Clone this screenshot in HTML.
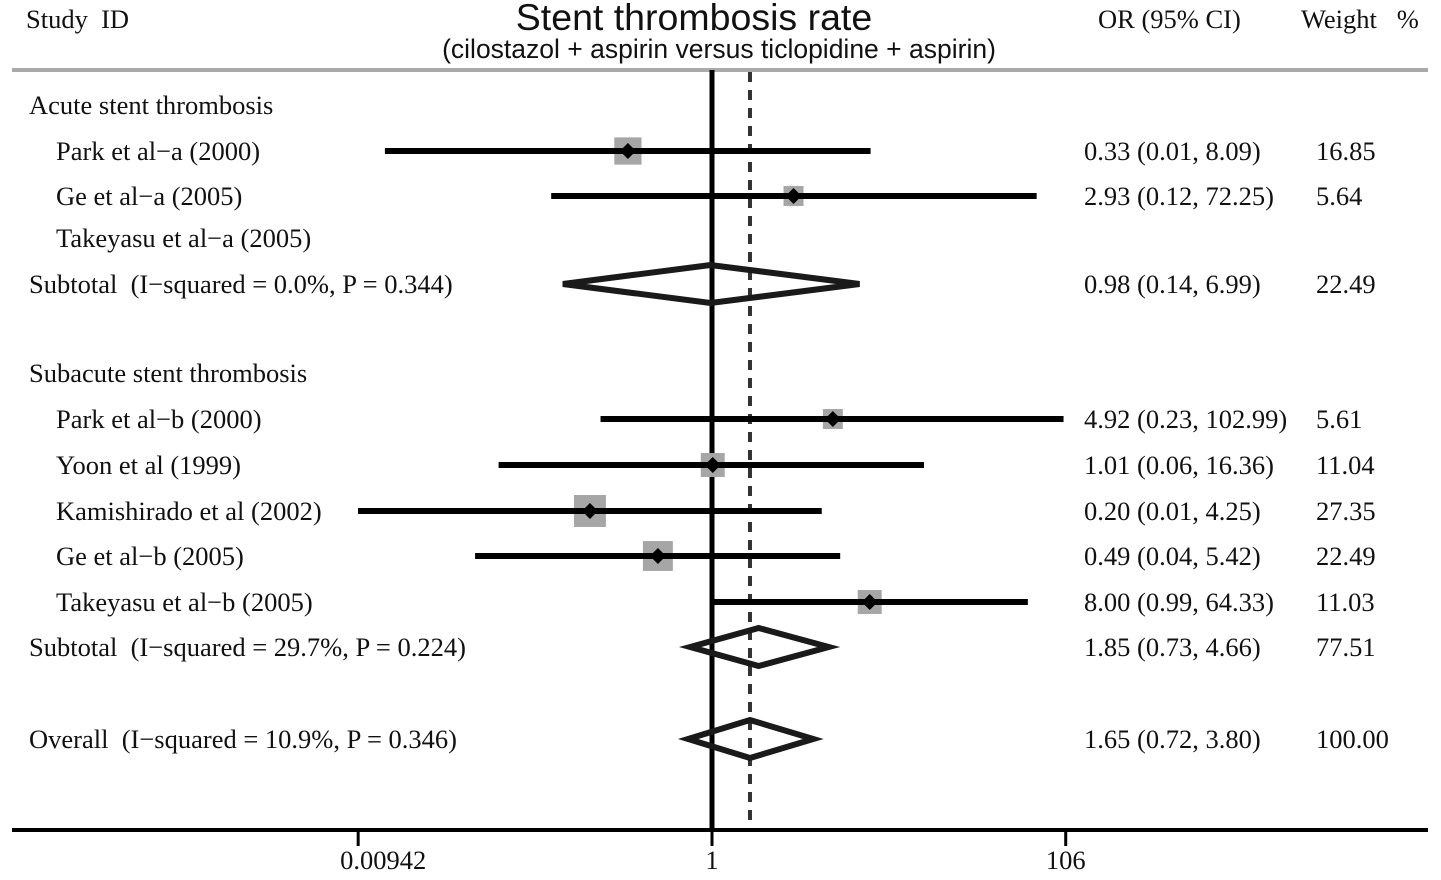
<!DOCTYPE html>
<html><head><meta charset="utf-8"><style>
html,body{margin:0;padding:0;background:#fff;}
svg{display:block;}
text{font-family:"Liberation Serif",serif;font-size:26.5px;fill:#111;white-space:pre;}
.sans{font-family:"Liberation Sans",sans-serif;}
</style></head><body>
<svg id="chart" width="1441" height="880" viewBox="0 0 1441 880" xmlns="http://www.w3.org/2000/svg" xml:space="preserve">
<text x="26" y="28">Study  ID</text>
<text class="sans" x="694" y="30" text-anchor="middle" style="font-size:37.5px">Stent thrombosis rate</text>
<text class="sans" x="719" y="58" text-anchor="middle" style="font-size:26.5px">(cilostazol + aspirin versus ticlopidine + aspirin)</text>
<text x="1098" y="28">OR (95% CI)</text>
<text x="1301" y="28">Weight   %</text>
<line x1="12" y1="70" x2="1428" y2="70" stroke="#aaa" stroke-width="4"/>
<g id="marks"></g>
</svg>
<script>
const labels=["Acute stent thrombosis","Park et al\u2212a (2000)","Ge et al\u2212a (2005)","Takeyasu et al\u2212a (2005)","Subtotal  (I\u2212squared = 0.0%, P = 0.344)","Subacute stent thrombosis","Park et al\u2212b (2000)","Yoon et al (1999)","Kamishirado et al (2002)","Ge et al\u2212b (2005)","Takeyasu et al\u2212b (2005)","Subtotal  (I\u2212squared = 29.7%, P = 0.224)","Overall  (I\u2212squared = 10.9%, P = 0.346)"];
const rowKinds=["header","study","study","empty","pooled","header","study","study","study","study","study","pooled","pooled"];
const rowY=[105,151,196,238,284,373,419,465,511,556,602,647,739];
const estimates=[null,0.33,2.93,null,0.98,null,4.92,1.01,0.20,0.49,8.00,1.85,1.65];
const lowers=[null,0.0134,0.12,null,0.14,null,0.23,0.06,0.0094,0.044,0.99,0.75,0.73];
const uppers=[null,8.09,72.25,null,6.99,null,102.99,16.36,4.25,5.42,64.33,4.66,3.80];
const orText=["","0.33 (0.01, 8.09)","2.93 (0.12, 72.25)","","0.98 (0.14, 6.99)","","4.92 (0.23, 102.99)","1.01 (0.06, 16.36)","0.20 (0.01, 4.25)","0.49 (0.04, 5.42)","8.00 (0.99, 64.33)","1.85 (0.73, 4.66)","1.65 (0.72, 3.80)"];
const weights=[null,16.85,5.64,null,22.49,null,5.61,11.04,27.35,22.49,11.03,77.51,100.00];
const tickValues=[0.00942,1,106];
const tickLabels=["0.00942","1","106"];
const overallEstimate=1.65;

const NS="http://www.w3.org/2000/svg";
const g=document.getElementById('marks');
const xs=v=>712+75.85*Math.log(v);
function mk(tag,attrs,parent){const e=document.createElementNS(NS,tag);for(const k in attrs)e.setAttribute(k,attrs[k]);(parent||g).appendChild(e);return e;}

let e=mk('line',{x1:xs(1),y1:70,x2:xs(1),y2:830,stroke:'#000','stroke-width':5});


e=mk('line',{x1:xs(overallEstimate),y1:72,x2:xs(overallEstimate),y2:830,stroke:'#333','stroke-width':4,'stroke-dasharray':'10 8'});



labels.forEach((lab,i)=>{
  const y=rowY[i];const kind=rowKinds[i];
  const indent=(kind==='study'||kind==='empty')?56:29;
  const t=mk('text',{x:indent,y:y+9});t.textContent=lab;
  
  
  if(orText[i]){const o=mk('text',{x:1084,y:y+9});o.textContent=orText[i];
    
    
    const w=mk('text',{x:1316,y:y+9});w.textContent=weights[i].toFixed(2);
    
    }
  if(kind==='study'&&estimates[i]!=null){
    const cx=xs(estimates[i]);const s=10+4.2*Math.sqrt(weights[i]);
    const sq=mk('rect',{x:cx-s/2,y:y-s/2,width:s,height:s,fill:'#a6a6a6'});
    
    
    const l=mk('line',{x1:xs(lowers[i]),y1:y,x2:xs(uppers[i]),y2:y,stroke:'#000','stroke-width':6});
    
    
    const d=mk('polygon',{points:`${cx-8},${y} ${cx},${y-8} ${cx+8},${y} ${cx},${y+8}`,fill:'#000'});
    
    
  }
  if(kind==='pooled'){
    const a=xs(lowers[i]),b=xs(estimates[i]),c=xs(uppers[i]);
    const d=mk('polygon',{points:`${a},${y} ${b},${y-19} ${c},${y} ${b},${y+19}`,fill:'none',stroke:'#1a1a1a','stroke-width':6});
    
    
  }
});

e=mk('line',{x1:12,y1:830,x2:1428,y2:830,stroke:'#000','stroke-width':4});


tickValues.forEach((v,i)=>{
  const tk=mk('line',{x1:xs(v),y1:830,x2:xs(v),y2:846,stroke:'#000','stroke-width':3});
  
  
  const lx=i===0?xs(v)+25:xs(v);
  const tl=mk('text',{x:lx,y:869,'text-anchor':'middle'});tl.textContent=tickLabels[i];
  
  
});
</script>
</body></html>
